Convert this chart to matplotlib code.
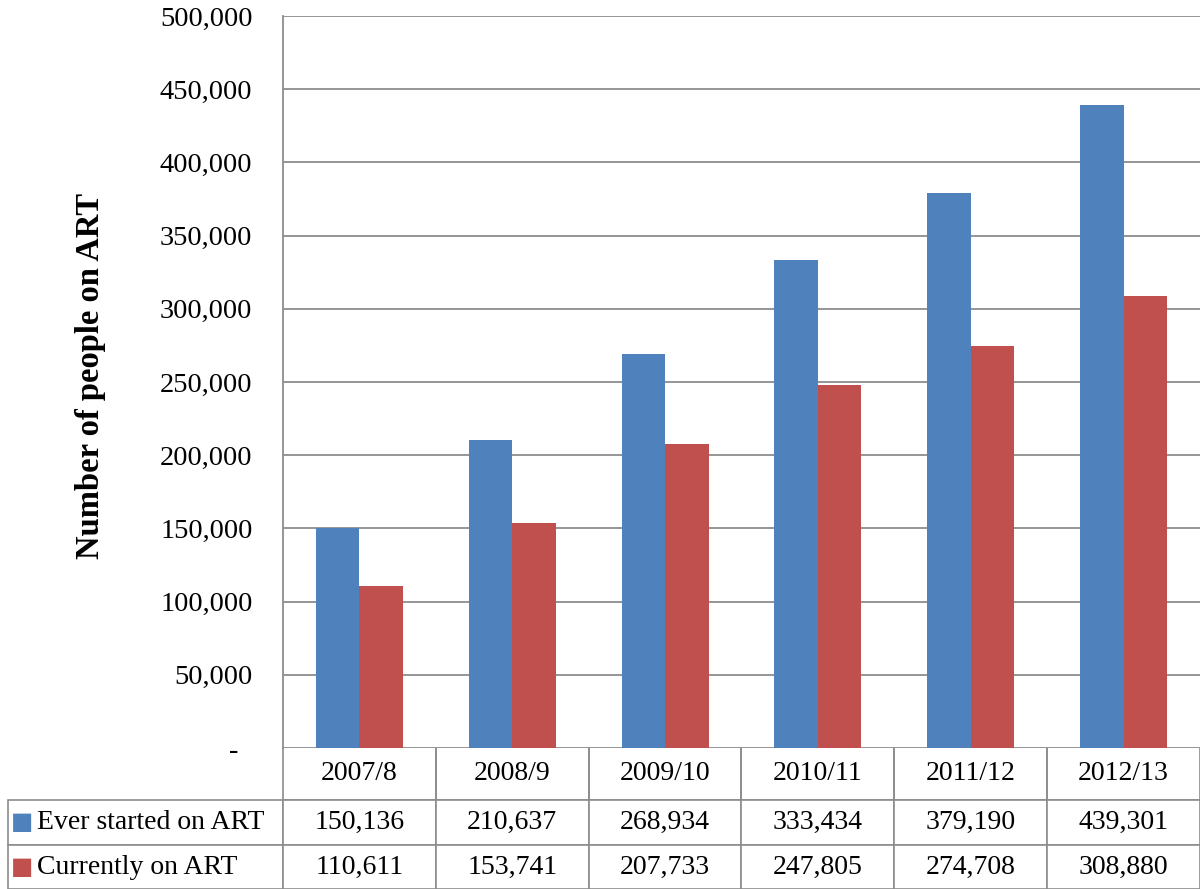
import matplotlib.pyplot as plt
import numpy as np

years = ['2007/8', '2008/9', '2009/10', '2010/11', '2011/12', '2012/13']
ever_started = [150136, 210637, 268934, 333434, 379190, 439301]
currently_on = [110611, 153741, 207733, 247805, 274708, 308880]
series_names = ['Ever started on ART', 'Currently on ART']
colors = ['#4F81BD', '#C0504D']

plt.rcParams['font.family'] = ['Liberation Serif', 'DejaVu Sans']

fig = plt.figure(figsize=(12, 8.89), dpi=100)
ax = fig.add_axes([283 / 1200, 141 / 889, 917 / 1200, 732 / 889])

x = np.arange(len(years))
w = 0.285
ax.bar(x - w / 2, ever_started, w, color=colors[0], zorder=3)
ax.bar(x + w / 2, currently_on, w, color=colors[1], zorder=3)

ax.set_xlim(-0.5, len(years) - 0.5)
ax.set_ylim(0, 500000)
yt = np.arange(0, 500001, 50000)
ax.set_yticks(yt)
ax.set_yticklabels(['-  '] + ['{:,}'.format(v) for v in yt[1:]], fontsize=20.5)
ax.set_xticks([])
ax.tick_params(axis='y', length=0, pad=22)
ax.grid(axis='y', color='#8c8c8c', linewidth=1.3, zorder=0)
for s in ['top', 'right', 'bottom']:
    ax.spines[s].set_visible(False)
ax.spines['left'].set_color('#8c8c8c')
ax.spines['left'].set_linewidth(1.3)
ax.set_ylabel('Number of people on ART', fontsize=23.5, fontweight='bold')
ax.yaxis.set_label_coords((91 - 283) / 917, 0.508)
ax.yaxis.label.set_verticalalignment('center')

# data table under the plot
rows = [[''] + years,
        [series_names[0]] + ['{:,}'.format(v) for v in ever_started],
        [series_names[1]] + ['{:,}'.format(v) for v in currently_on]]
col_w = [275] + [917 / 6] * 6
row_h = [52, 45, 44]
tbl = ax.table(cellText=rows, cellLoc='center',
               bbox=[-275 / 917, -141 / 732, 1192 / 917, 141 / 732])
tbl.auto_set_font_size(False)
tbl.set_fontsize(20)
for (r, c), cell in tbl.get_celld().items():
    cell.set_edgecolor('#8c8c8c')
    cell.set_linewidth(1.2)
    cell.set_width(col_w[c])
    cell.set_height(row_h[r])
    if r == 0 and c == 0:
        cell.visible_edges = ''
    elif r == 0:
        cell.visible_edges = 'LRB'
    if c == 0 and r > 0:
        cell._loc = 'left'
        cell.PAD = 0.105
        cell.get_text().set_horizontalalignment('left')

for c, yc in zip(colors, [822, 867]):
    ax.text((22 - 283) / 917, (748 - yc) / 732, '■', color=c, fontsize=17,
            family='DejaVu Sans', ha='center', va='center',
            transform=ax.transAxes, clip_on=False)

fig.savefig('out.png', dpi=100)
